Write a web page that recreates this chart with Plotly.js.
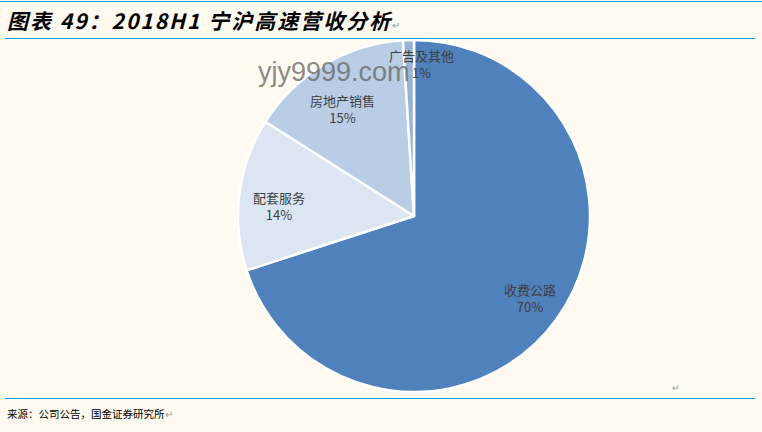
<!DOCTYPE html>
<html><head><meta charset="utf-8">
<script src="https://cdn.plot.ly/plotly-3.0.1.min.js"></script>
<style>html,body{margin:0;padding:0;background:#FFFAF0;}#chart{width:762px;height:432px;}</style>
</head><body><div id="chart"></div>
<script>
const categories = ["收费公路", "配套服务", "房地产销售", "广告及其他"];
const values = [70, 14, 15, 1];
const sliceColors = ["#4F81BD", "#DCE6F2", "#B9CDE5", "#95B3D7"];
const labelPos = [[530, 298], [279, 206], [342, 109], [421, 64]];
const W = 762, H = 432;

const annotations = categories.map((c, i) => ({
  x: labelPos[i][0] / W, y: 1 - labelPos[i][1] / H, xref: "paper", yref: "paper",
  text: c + "<br>" + values[i] + "%", showarrow: false,
  font: {family: "Noto Sans CJK SC, sans-serif", size: 13, color: "#404040"},
  align: "center", yanchor: "middle", xanchor: "center"
}));
annotations.push({x: 5 / W, y: 1 - 20 / H, xref: "paper", yref: "paper", xanchor: "left", yanchor: "middle",
  text: "<span style='letter-spacing:2px'><b><i>图表 49：2018H1 宁沪高速营收分析</i></b></span><span style='font-size:10px;color:#999'>↵</span>", showarrow: false,
  font: {family: "Noto Sans CJK SC, sans-serif", size: 21, color: "#000"}});
annotations.push({x: 5 / W, y: 1 - 413 / H, xref: "paper", yref: "paper", xanchor: "left", yanchor: "middle",
  text: "来源：公司公告，国金证券研究所<span style='font-size:10px;color:#999'>↵</span>", showarrow: false,
  font: {family: "Noto Sans CJK SC, sans-serif", size: 10.5, color: "#000"}});
annotations.push({x: 676 / W, y: 1 - 387 / H, xref: "paper", yref: "paper", xanchor: "center", yanchor: "middle",
  text: "↵", showarrow: false, font: {size: 9, color: "#999"}});
annotations.push({x: 334 / W, y: 1 - 72 / H, xref: "paper", yref: "paper", xanchor: "center", yanchor: "middle",
  text: "yjy9999.com", showarrow: false,
  font: {family: "Liberation Sans, Arial, sans-serif", size: 27, color: "rgba(100,100,100,0.75)"}});

const data = [{
  type: "pie", labels: categories, values: values, sort: false, direction: "clockwise", rotation: 0,
  marker: {colors: sliceColors, line: {color: "#FFFFFF", width: 2.5}},
  textinfo: "none", hoverinfo: "label+percent", showlegend: false,
  domain: {x: [(414 - 176) / W, (414 + 176) / W], y: [40 / H, 392 / H]}
}];

const line = (y) => ({type: "line", xref: "paper", yref: "paper", x0: 5 / W, x1: 755 / W, y0: 1 - y / H, y1: 1 - y / H,
  line: {color: "#0AA0E0", width: 1.2}});

const layout = {
  width: W, height: H, margin: {l: 0, r: 0, t: 0, b: 0},
  paper_bgcolor: "#FFFAF0", plot_bgcolor: "#FFFAF0",
  annotations: annotations,
  shapes: [line(38.5), line(398.5), {type: "line", xref: "paper", yref: "paper", x0: 0, x1: 1, y0: 1 - 1.5 / H, y1: 1 - 1.5 / H, line: {color: "#0AA0E0", width: 1}}]
};
Plotly.newPlot("chart", data, layout, {displayModeBar: false, staticPlot: true});
</script></body></html>
